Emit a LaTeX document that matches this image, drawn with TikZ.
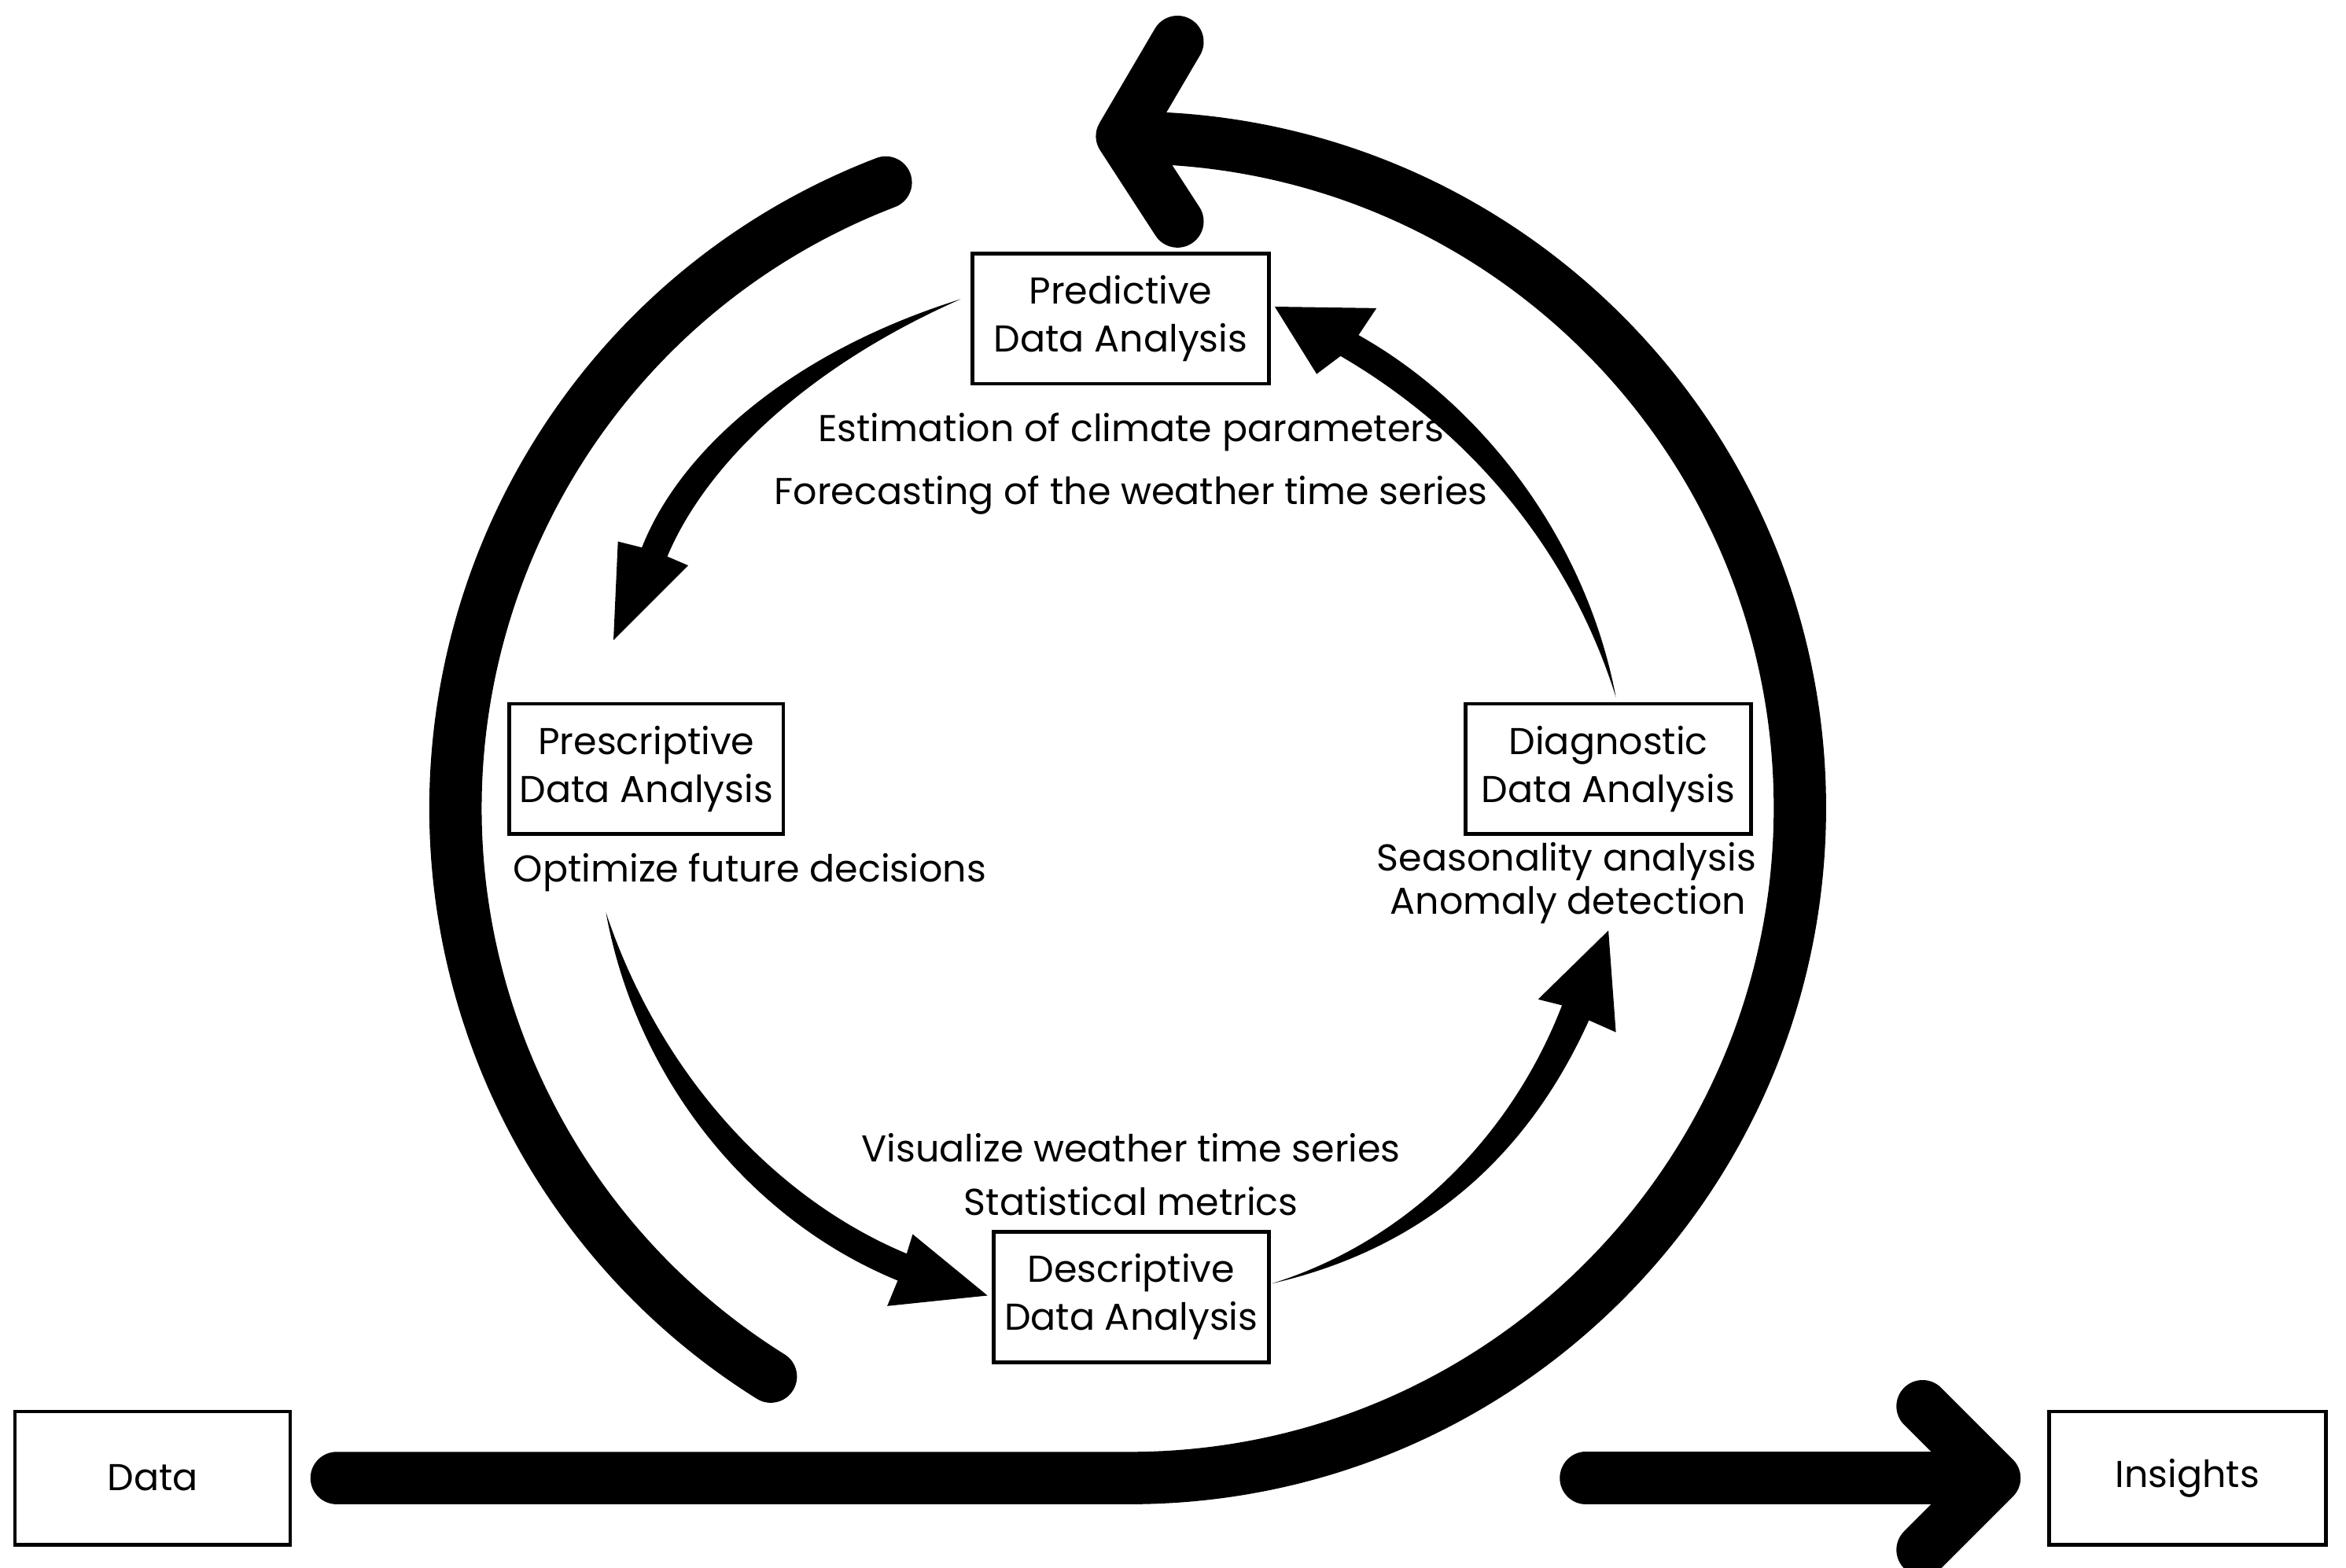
\documentclass[tikz,border=0pt]{standalone}
\usepackage{fontspec}
\setmainfont{Poppins}
\begin{document}
\begin{tikzpicture}[x=1pt,y=-1pt,
  box/.style={draw,line width=2.5pt,align=center,inner sep=0pt,font=\fontsize{25}{32}\selectfont},
  lbl/.style={font=\fontsize{25}{30}\selectfont,inner sep=0pt},
  big/.style={line width=35pt,line cap=round,line join=round}]
\useasboundingbox[fill=white] (0,0) rectangle (1568,1048);
% outer boxes
\node[box,minimum width=184pt,minimum height=89pt] (data) at (102,988) {Data};
\node[box,minimum width=185pt,minimum height=89pt] (ins) at (1462,988) {Insights};
% inner boxes
\node[box,minimum width=198pt,minimum height=87pt] (pred) at (749,213) {Predictive\\Data Analysis};
\node[box,minimum width=183pt,minimum height=87pt] (pres) at (432,514) {Prescriptive\\Data Analysis};
\node[box,minimum width=191pt,minimum height=87pt] (diag) at (1075,514) {Diagnostic\\Data Analysis};
\node[box,minimum width=184pt,minimum height=87pt] (desc) at (756,867) {Descriptive\\Data Analysis};
% labels
\node[lbl] (l1) at (756,289) {Estimation of climate parameters};
\node[lbl] (l2) at (756,331) {Forecasting of the weather time series};
\node[lbl,anchor=west] (l3) at (343,583) {Optimize future decisions};
\node[lbl] (l4) at (1047,576) {Seasonality analysis};
\node[lbl] (l5) at (1048,605) {Anomaly detection};
\node[lbl] (l6) at (756,767) {Visualize weather time series};
\node[lbl] (l7) at (756,803) {Statistical metrics};
% big cycle
\coordinate (s1) at (225,988);
\coordinate (b) at (755,988);
\draw[big] (s1) -- (b) arc[start angle=90,end angle=-87,radius=448];
\draw[big] (787,28) -- (750,91) -- (787,148);
\coordinate (la) at (592,122);
\draw[big] (la) arc[start angle=-111,end angle=-238,radius=448];
\coordinate (r1) at (1060,988);
\coordinate (r2) at (1330,988);
\draw[big] (r1) -- (r2);
\draw[big] (1285,940) -- (1333,988) -- (1285,1036);
% tapered arrows
\fill (642,200) .. controls (530,235) and (455,300) .. (429,366)
  -- (413,362) -- (410,428) -- (460,378) -- (446,372)
  .. controls (472,310) and (540,245) .. (642,200) -- cycle;
\fill (405,610) .. controls (440,715) and (515,800) .. (606,838)
  -- (610,825) -- (660,866) -- (593,873) -- (600,856)
  .. controls (500,815) and (425,720) .. (405,610) -- cycle;
\fill (850,858) .. controls (940,830) and (1010,760) .. (1044,672)
  -- (1028,668) -- (1075,622) -- (1080,690) -- (1062,682)
  .. controls (1020,775) and (950,835) .. (850,858) -- cycle;
\fill (1080,466) .. controls (1060,360) and (990,270) .. (908,224)
  -- (920,206) -- (852,205) -- (880,250) -- (896,238)
  .. controls (985,290) and (1050,370) .. (1080,466) -- cycle;
\end{tikzpicture}
\end{document}
